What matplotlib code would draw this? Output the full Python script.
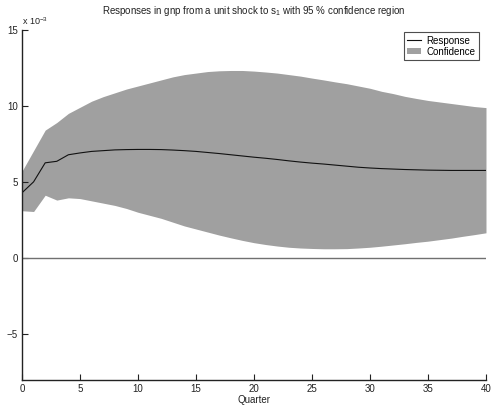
import matplotlib
matplotlib.use("Agg")
import matplotlib.pyplot as plt
import numpy as np

plt.rcParams['font.family'] = ['Liberation Sans', 'DejaVu Sans']
plt.rcParams['mathtext.fontset'] = 'custom'
plt.rcParams['mathtext.rm'] = 'Liberation Sans'

quarters = list(range(41))
response = [4.28, 5.0, 6.25, 6.35, 6.78, 6.9, 7.0, 7.05, 7.1, 7.12, 7.13, 7.13, 7.12, 7.09,
            7.05, 7.0, 6.93, 6.86, 6.78, 6.7, 6.62, 6.55, 6.47, 6.38, 6.3, 6.23, 6.17, 6.1,
            6.03, 5.96, 5.91, 5.87, 5.84, 5.81, 5.79, 5.77, 5.76, 5.75, 5.75, 5.75, 5.75]
upper = [5.7, 7.05, 8.4, 8.9, 9.5, 9.9, 10.3, 10.6, 10.85, 11.1, 11.3, 11.5, 11.7, 11.9,
         12.05, 12.15, 12.25, 12.3, 12.32, 12.32, 12.28, 12.22, 12.15, 12.05, 11.95, 11.82,
         11.7, 11.57, 11.45, 11.3, 11.15, 10.95, 10.8, 10.62, 10.48, 10.35, 10.25, 10.15,
         10.05, 9.95, 9.88]
lower = [3.1, 3.05, 4.12, 3.8, 3.95, 3.9, 3.75, 3.6, 3.45, 3.25, 3.0, 2.8, 2.6, 2.35,
         2.1, 1.9, 1.7, 1.5, 1.32, 1.15, 1.0, 0.88, 0.78, 0.7, 0.65, 0.62, 0.6, 0.6, 0.61,
         0.65, 0.7, 0.77, 0.85, 0.93, 1.02, 1.1, 1.2, 1.3, 1.42, 1.53, 1.65]
xticks = [0, 5, 10, 15, 20, 25, 30, 35, 40]
yticks = [-5, 0, 5, 10, 15]

fig = plt.figure(figsize=(4.91, 4.11), dpi=100)
ax = fig.add_axes([0.0448, 0.0764, 0.945, 0.8513])

ax.fill_between(quarters, lower, upper, color='#a0a0a0', linewidth=0, label='Confidence')
ax.plot(quarters, response, color='#111111', linewidth=0.8, label='Response')
ax.axhline(0, color='#707070', linewidth=1.0)

ax.set_xlim(0, 40)
ax.set_ylim(-8, 15)
ax.set_xticks(xticks)
ax.set_yticks(yticks)
ax.tick_params(direction='in', length=4, width=0.8, labelsize=7, colors='#222222', pad=3)
for s in ['top', 'right']:
    ax.spines[s].set_visible(False)
for s in ['left', 'bottom']:
    ax.spines[s].set_linewidth(1.0)
    ax.spines[s].set_color('#222222')

ax.set_xlabel('Quarter', fontsize=7, color='#222222', labelpad=1)
ax.set_title(r'Responses in gnp from a unit shock to s$_{\mathrm{1}}$ with 95 % confidence region',
             fontsize=7, color='#222222', pad=11)
ax.text(0.0, 1.008, r'x 10$^{\mathrm{-3}}$', transform=ax.transAxes, fontsize=6.5,
        ha='left', va='bottom', color='#222222')

handles, labels = ax.get_legend_handles_labels()
leg = ax.legend(handles[::-1], labels[::-1], loc='upper right', fontsize=7,
                frameon=True, fancybox=False, edgecolor='#222222',
                bbox_to_anchor=(0.985, 0.993), handlelength=1.4, handleheight=0.6,
                borderpad=0.35, labelspacing=0.1, handletextpad=0.6,
                borderaxespad=0)
leg.get_frame().set_linewidth(0.8)

fig.savefig('out.png', dpi=100)
